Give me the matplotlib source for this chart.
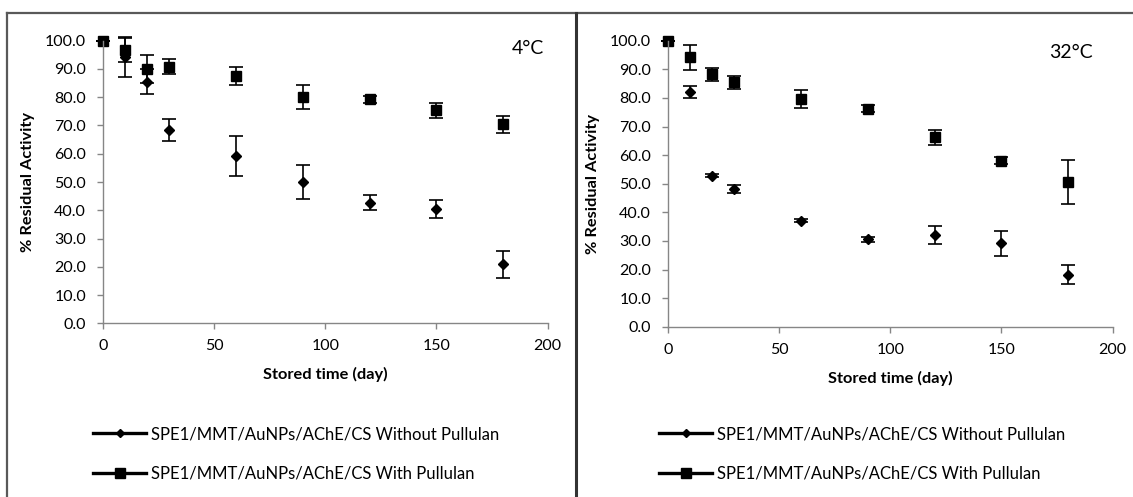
import matplotlib.pyplot as plt
from matplotlib.lines import Line2D

plt.rcParams['font.family'] = ['Lato', 'DejaVu Sans']

days = [0, 10, 20, 30, 60, 90, 120, 150, 180]

# 4 C
without_4 = [100, 94.3, 85.5, 68.5, 59.2, 49.9, 42.7, 40.6, 20.9]
without_4_err = [0, 7.0, 4.5, 3.9, 7.0, 6.0, 2.7, 3.2, 4.7]
with_4 = [100, 96.7, 90.0, 90.8, 87.4, 80.2, 79.2, 75.4, 70.4]
with_4_err = [0, 4.4, 5.0, 2.7, 3.2, 4.2, 1.3, 2.7, 3.0]

# 32 C
without_32 = [100, 81.9, 52.8, 48.1, 37.1, 30.5, 32.1, 29.1, 18.2]
without_32_err = [0, 2.1, 0.5, 1.3, 0.5, 0.8, 3.2, 4.4, 3.3]
with_32 = [100, 94.2, 88.3, 85.4, 79.6, 76.2, 66.2, 58.1, 50.6]
with_32_err = [0, 4.3, 2.3, 2.3, 3.2, 1.2, 2.6, 1.3, 7.7]

labels = ['SPE1/MMT/AuNPs/AChE/CS Without Pullulan',
          'SPE1/MMT/AuNPs/AChE/CS With Pullulan']

W, H = 1133, 497
fig = plt.figure(figsize=(W / 100, H / 100), dpi=100)

grey = '#868686'


def px(x0, y_top, x1, y_bot):
    return [x0 / W, 1 - y_bot / H, (x1 - x0) / W, (y_bot - y_top) / H]


def draw_panel(rect, wo, wo_err, wi, wi_err, temp, temp_xy, ylab_x, leg_x):
    ax = fig.add_axes(rect)
    for y, e, m, ms in [(wo, wo_err, 'D', 5.5), (wi, wi_err, 's', 7)]:
        parts = ax.errorbar(days, y, yerr=e, fmt=m, color='black', ms=ms,
                            ecolor='black', elinewidth=1.2, capsize=5, capthick=1.2)
        for a in [parts[0], *parts[1], *parts[2]]:
            a.set_clip_on(False)
    ax.set_xlim(0, 200)
    ax.set_ylim(0, 100)
    ax.set_xticks(range(0, 201, 50))
    ax.set_yticks(range(0, 101, 10))
    ax.set_yticklabels(['%.1f' % v for v in range(0, 101, 10)])
    for s in ['top', 'right']:
        ax.spines[s].set_visible(False)
    for s in ['left', 'bottom']:
        ax.spines[s].set_color(grey)
        ax.spines[s].set_linewidth(1)
    ax.tick_params(direction='out', length=4, width=1, color=grey, labelsize=11.5)
    ax.tick_params(axis='x', pad=7.5)
    ax.tick_params(axis='y', pad=8)
    ax.set_xlabel('Stored time (day)', fontsize=11.8, fontweight='bold', labelpad=10)
    ax.set_ylabel('% Residual Activity', fontsize=11.8, fontweight='bold')
    ax.yaxis.set_label_coords((ylab_x + 8 - rect[0] * W) / (rect[2] * W), 0.5)
    fig.text(temp_xy[0] / W, 1 - temp_xy[1] / H, temp, fontsize=14,
             ha='right', va='center')
    handles = [Line2D([], [], color='black', lw=2.4, marker='D', ms=4.5),
               Line2D([], [], color='black', lw=2.4, marker='s', ms=6.5)]
    ax.legend(handles, labels, loc='upper left', frameon=False,
              bbox_to_anchor=(leg_x / W, 1 - 426 / H),
              bbox_transform=fig.transFigure, borderpad=0, borderaxespad=0,
              handlelength=3.2, handletextpad=0.3, labelspacing=1.4,
              fontsize=12)
    return ax


draw_panel(px(102.7, 40.7, 547.7, 323.3), without_4, without_4_err,
           with_4, with_4_err, '4°C', (544, 48), 27, 93)
draw_panel(px(667.7, 40.7, 1112.7, 326.7), without_32, without_32_err,
           with_32, with_32_err, '32°C', (1093, 52), 592, 659)

# outer frame lines
fig.add_artist(Line2D([7 / W, 1], [1 - 13 / H, 1 - 13 / H], color='#595959', lw=1.6))
fig.add_artist(Line2D([7 / W, 7 / W], [0, 1 - 13 / H], color='#595959', lw=1.6))
fig.add_artist(Line2D([575.5 / W, 575.5 / W], [0, 1 - 13 / H], color='#333333', lw=2.2))

fig.savefig('out.png', dpi=100)
